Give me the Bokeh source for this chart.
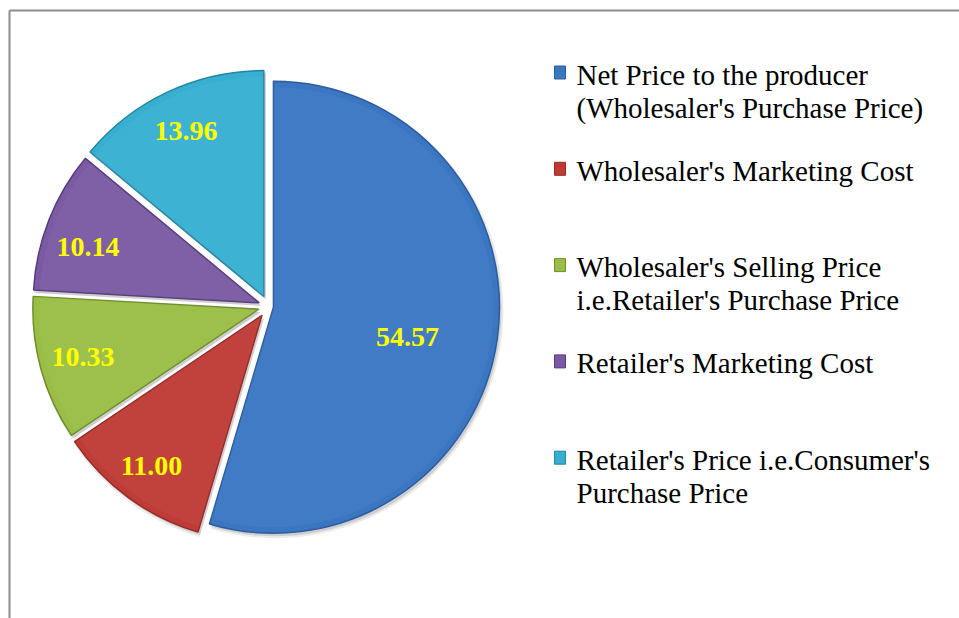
import math
from bokeh.plotting import figure
from bokeh.models import Range1d, ColumnDataSource
from bokeh.core.properties import value
from bokeh.embed import file_html
from bokeh.resources import INLINE

# ---- data ----
CATEGORIES = [
    "Net Price to the producer\n(Wholesaler's Purchase Price)",
    "Wholesaler's Marketing Cost",
    "Wholesaler's Selling Price\ni.e.Retailer's Purchase Price",
    "Retailer's Marketing Cost",
    "Retailer's Price i.e.Consumer's\nPurchase Price",
]
VALUES = [54.57, 11.00, 10.33, 10.14, 13.96]
LABELS = ["54.57", "11.00", "10.33", "10.14", "13.96"]
COLORS = ["#3B76C3", "#BF3B36", "#99BD45", "#7A5AA3", "#37AFD1"]
EDGES = ["#2C5C9E", "#962A27", "#6F8E2C", "#563C7C", "#2586A2"]

# ---- layout (1 data unit = 1 px, image coordinates) ----
W, H = 959, 618
def px(X):
    return X
def py(Y):
    return H - Y

CX, CY = px(268), py(306)
R = 226
EXPLODE = [5, 11, 10, 10, 11]          # px, per slice
LABEL_R = [0.608, 0.827, 0.807, 0.797, 0.81]
LABEL_DA = [4.5, 0.0, 0.0, -3.3, 0.0]  # degrees clockwise tweak
SERIF = "Liberation Serif"

p = figure(width=W, height=H, output_backend="svg", toolbar_location=None,
           x_range=Range1d(0, W), y_range=Range1d(0, H), min_border=0)
p.axis.visible = False
p.grid.visible = False
p.outline_line_color = None
p.background_fill_color = "white"
p.border_fill_color = "white"

# frame lines (top and left)
p.line([px(9), px(959)], [py(10), py(10)], line_color="#8C8C8C", line_width=2)
p.line([px(9), px(9)], [py(10), py(618)], line_color="#8C8C8C", line_width=2)

total = sum(VALUES)
xs, ys, sa, ea, lx, ly = [], [], [], [], [], []
cum = 0.0
for i, v in enumerate(VALUES):
    f0 = cum / total
    f1 = (cum + v) / total
    fm = (f0 + f1) / 2
    cum += v
    a0 = math.pi / 2 - 2 * math.pi * f0
    a1 = math.pi / 2 - 2 * math.pi * f1
    am = math.pi / 2 - 2 * math.pi * fm
    cx = CX + EXPLODE[i] * math.cos(am)
    cy = CY + EXPLODE[i] * math.sin(am)
    xs.append(cx); ys.append(cy); sa.append(a0); ea.append(a1)
    al = am - math.radians(LABEL_DA[i])
    lx.append(cx + LABEL_R[i] * R * math.cos(al))
    ly.append(cy + LABEL_R[i] * R * math.sin(al))

src = ColumnDataSource(dict(x=xs, y=ys, sa=sa, ea=ea, color=COLORS, edge=EDGES,
                            lx=lx, ly=ly, label=LABELS,
                            sx=[x + 2 for x in xs], sy=[y - 3 for y in ys]))

# soft shadow
p.wedge(x="sx", y="sy", radius=R + 2, start_angle="sa", end_angle="ea",
        direction="clock", fill_color="#000000", fill_alpha=0.08, line_color=None, source=src)
p.wedge(x="sx", y="sy", radius=R, start_angle="sa", end_angle="ea",
        direction="clock", fill_color="#000000", fill_alpha=0.12, line_color=None, source=src)
# slices
p.wedge(x="x", y="y", radius=R, start_angle="sa", end_angle="ea",
        direction="clock", fill_color="color", line_color="edge", line_width=1.5,
        source=src)
# subtle highlight (bevel-like)
p.wedge(x="x", y="y", radius=R - 6, start_angle="sa", end_angle="ea",
        direction="clock", fill_color="white", fill_alpha=0.04, line_color=None, source=src)

# value labels
p.text(x="lx", y="ly", text="label", source=src, text_color="#FFFF00",
       text_font=value(SERIF), text_font_size="28px", text_font_style="bold",
       text_align="center", text_baseline="middle")

# legend
LEG_X_MARK = px(559.5)
LEG_X_TEXT = px(576)
LEG_Y0 = 72
LEG_STEP = 96.3
LINE_GAP = 33
mx, my, tx, ty, tt = [], [], [], [], []
for i, cat in enumerate(CATEGORIES):
    yc = LEG_Y0 + i * LEG_STEP
    mx.append(LEG_X_MARK); my.append(py(yc))
    for j, line in enumerate(cat.split("\n")):
        tx.append(LEG_X_TEXT)
        ty.append(py(yc + 2 + j * LINE_GAP))
        tt.append(line)

p.rect(x=mx, y=my, width=11, height=13, fill_color=COLORS, line_color=EDGES, line_width=1)
p.text(x=tx, y=ty, text=tt, text_color="#000000", text_font=value(SERIF),
       text_font_size="29px", text_align="left", text_baseline="middle")

open("out.html", "w").write(file_html(p, INLINE))
